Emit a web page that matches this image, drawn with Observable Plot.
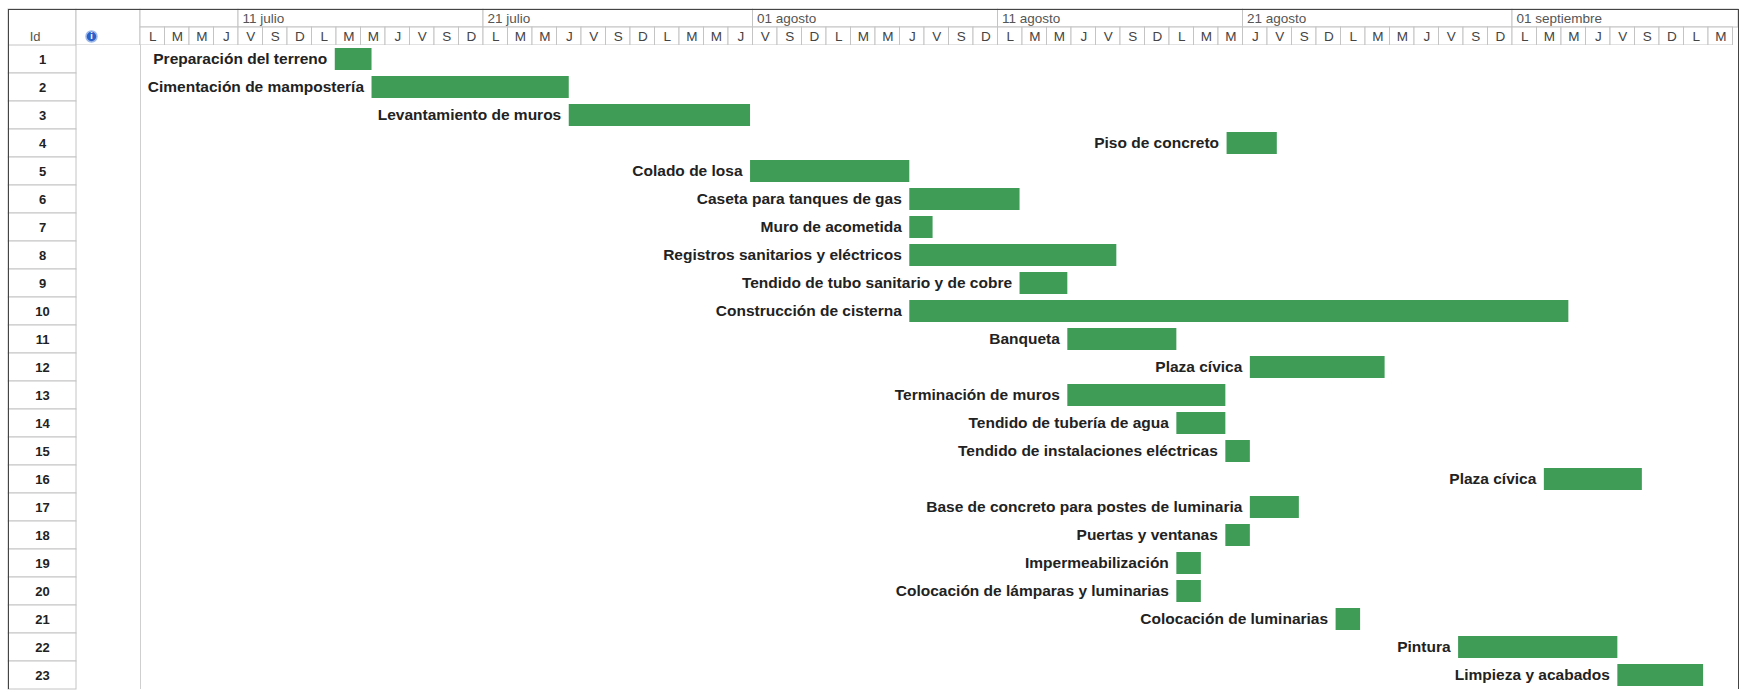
<!DOCTYPE html>
<html>
<head>
<meta charset="utf-8">
<script src="https://cdn.jsdelivr.net/npm/d3@7"></script>
<script src="https://cdn.jsdelivr.net/npm/@observablehq/plot@0.6"></script>
<style>
  body { margin: 0; background: #fff; }
  #chart svg { display: block; }
</style>
</head>
<body>
<div id="chart"></div>
<script>
// ---------- data ----------
const projectStart = "2014-07-07"; // first visible day (lunes)
const taskIds = [1, 2, 3, 4, 5, 6, 7, 8, 9, 10, 11, 12, 13, 14, 15, 16, 17, 18, 19, 20, 21, 22, 23];
const taskNames = [
  "Preparación del terreno",
  "Cimentación de mampostería",
  "Levantamiento de muros",
  "Piso de concreto",
  "Colado de losa",
  "Caseta para tanques de gas",
  "Muro de acometida",
  "Registros sanitarios y eléctricos",
  "Tendido de tubo sanitario y de cobre",
  "Construcción de cisterna",
  "Banqueta",
  "Plaza cívica",
  "Terminación de muros",
  "Tendido de tubería de agua",
  "Tendido de instalaciones eléctricas",
  "Plaza cívica",
  "Base de concreto para postes de luminaria",
  "Puertas y ventanas",
  "Impermeabilización",
  "Colocación de lámparas y luminarias",
  "Colocación de luminarias",
  "Pintura",
  "Limpieza y acabados"
];
// start / end in days after 7 julio 2014 00:00
const startDays = [7.95, 9.45, 17.5, 44.35, 24.9, 31.4, 31.4, 31.4, 35.9, 31.4, 37.85, 45.3, 37.85, 42.3, 44.3, 57.3, 45.3, 44.3, 42.3, 42.3, 48.8, 53.8, 60.3];
const endDays   = [9.45, 17.5, 24.9, 46.4, 31.4, 35.9, 32.35, 39.85, 37.85, 58.3, 42.3, 50.8, 44.3, 44.3, 45.3, 61.3, 47.3, 45.3, 43.3, 43.3, 49.8, 60.3, 63.8];

const tierDates  = ["2014-07-07", "2014-07-11", "2014-07-21", "2014-08-01", "2014-08-11", "2014-08-21", "2014-09-01"];
const tierLabels = ["", "11 julio", "21 julio", "01 agosto", "11 agosto", "21 agosto", "01 septiembre"];
const dayLetters = ["D", "L", "M", "M", "J", "V", "S"]; // indexed by getUTCDay()
const visibleDays = 65;
const idHeader = "Id";

// ---------- layout ----------
const DAY = 864e5;
const t0 = Date.parse(projectStart);
const at = d => new Date(t0 + d * DAY);
const W = 1749, mL = 8, mR = 11, timelineLeftPx = 140, pxPerDay = 24.5;
const dLeft = -(timelineLeftPx - mL) / pxPerDay;
const dRight = (W - mR - timelineLeftPx) / pxPerDay;
const xDomain = [at(dLeft), at(dRight)];
const idRight = at((76 - timelineLeftPx) / pxPerDay);
const indRight = at(0);
const font = '"Liberation Sans", Arial, Helvetica, sans-serif';

const tasks = taskIds.map((id, i) => ({id, name: taskNames[i], start: at(startDays[i]), end: at(endDays[i])}));
const tiers = tierDates.map((s, i) => ({
  start: new Date(Date.parse(s)),
  end: i + 1 < tierDates.length ? new Date(Date.parse(tierDates[i + 1])) : xDomain[1],
  label: tierLabels[i]
}));
const days = d3.range(visibleDays).map(d => ({start: at(d), end: at(d + 1), mid: at(d + 0.5), letter: dayLetters[at(d).getUTCDay()]}));

// ---------- header ----------
const header = Plot.plot({
  width: W, height: 45,
  marginTop: 9, marginBottom: 0, marginLeft: mL, marginRight: mR,
  x: {type: "utc", domain: xDomain, axis: null},
  y: {type: "band", domain: ["tier", "day"], axis: null, padding: 0},
  style: {fontFamily: font, background: "white"},
  marks: [
    Plot.rect([0], {x1: () => xDomain[0], x2: () => idRight, fill: "white", stroke: "#c4c4c4"}),
    Plot.rect([0], {x1: () => idRight, x2: () => indRight, fill: "white", stroke: "#c4c4c4"}),
    Plot.barX(tiers, {x1: "start", x2: "end", y: () => "tier", fill: "white", stroke: "#c4c4c4"}),
    Plot.text(tiers, {x: "start", y: () => "tier", text: "label", textAnchor: "start", dx: 4, fontSize: 13.5, fill: "#555"}),
    Plot.barX(days, {x1: "start", x2: "end", y: () => "day", fill: "white", stroke: "#c4c4c4"}),
    Plot.text(days, {x: "mid", y: () => "day", text: "letter", fontSize: 13.5, fill: "#444"}),
    Plot.text([idHeader], {x: () => at(-4.3), y: () => "day", text: d => d, fontSize: 13, fill: "#555"}),
    Plot.dot([0], {x: () => at(-2.0), y: () => "day", r: 5.5, fill: "#2c62c8", stroke: "#9db8ea"}),
    Plot.text(["i"], {x: () => at(-2.0), y: () => "day", text: d => d, fill: "white", fontSize: 9, fontWeight: "bold"}),
    Plot.frame({stroke: "#444"})
  ]
});

// ---------- body ----------
const body = Plot.plot({
  width: W, height: 647,
  marginTop: 0, marginBottom: 3, marginLeft: mL, marginRight: mR,
  x: {type: "utc", domain: xDomain, axis: null},
  y: {type: "band", domain: taskIds, axis: null, padding: 0},
  style: {fontFamily: font, background: "white"},
  marks: [
    Plot.barX(taskIds, {x1: () => xDomain[0], x2: () => idRight, y: d => d, fill: "white", stroke: "#c4c4c4"}),
    Plot.text(taskIds, {x: () => at(-4.0), y: d => d, text: d => String(d), fontSize: 13, fontWeight: "bold", fill: "#222"}),
    Plot.ruleX([indRight], {stroke: "#cfcfcf"}),
    Plot.ruleX(xDomain, {stroke: "#444"}),
    Plot.barX(tasks, {x1: "start", x2: "end", y: "id", fill: "#3f9c56", insetTop: 3, insetBottom: 3}),
    Plot.text(tasks, {x: "start", y: "id", text: "name", textAnchor: "end", dx: -8, fontSize: 15.5, fontWeight: "bold", fill: "#222"})
  ]
});

document.getElementById("chart").append(header, body);
</script>
</body>
</html>
